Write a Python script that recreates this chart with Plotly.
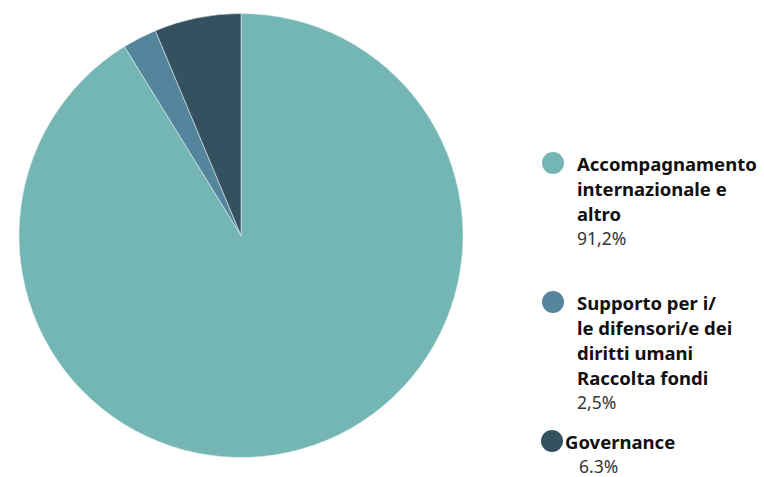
import plotly.graph_objects as go

labels = ["Accompagnamento internazionale e altro",
          "Supporto per i/le difensori/e dei diritti umani Raccolta fondi",
          "Governance"]
values = [91.2, 2.5, 6.3]
value_labels = ["91,2%", "2,5%", "6.3%"]
colors = ["#74B6B4", "#55859D", "#35505F"]
legend_lines = [["Accompagnamento", "internazionale e", "altro"],
                ["Supporto per i/", "le difensori/e dei", "diritti umani", "Raccolta fondi"],
                ["Governance"]]

W, H = 764, 477
fig = go.Figure()
fig.add_trace(go.Pie(
    labels=labels, values=values, sort=False, direction="clockwise", rotation=0,
    marker=dict(colors=colors, line=dict(color="#dfeeee", width=0.6)),
    textinfo="none", hoverinfo="label+percent", showlegend=False,
    domain=dict(x=[(241 - 222) / W, (241 + 222) / W],
                y=[1 - (235.5 + 222) / H, 1 - (235.5 - 222) / H]),
))

# custom legend layout (pixel positions)
item_layout = [
    dict(cx=553, cy=163, tx=575, px=575),
    dict(cx=553, cy=302, tx=575, px=575),
    dict(cx=552, cy=441, tx=563, px=577),
]
line_h = 25
for i, lay in enumerate(item_layout):
    r = 11
    fig.add_shape(type="circle", xref="paper", yref="paper",
                  x0=(lay["cx"] - r) / W, x1=(lay["cx"] + r) / W,
                  y0=1 - (lay["cy"] + r) / H, y1=1 - (lay["cy"] - r) / H,
                  fillcolor=colors[i], line=dict(width=0))
    for j, txt in enumerate(legend_lines[i]):
        fig.add_annotation(x=lay["tx"] / W, y=1 - (lay["cy"] + j * line_h) / H,
                           xref="paper", yref="paper", xanchor="left", yanchor="middle",
                           text="<b>" + txt + "</b>", showarrow=False,
                           font=dict(family="Noto Sans", size=18.5, color="#111111"))
    j = len(legend_lines[i])
    fig.add_annotation(x=lay["px"] / W, y=1 - (lay["cy"] + j * line_h) / H,
                       xref="paper", yref="paper", xanchor="left", yanchor="middle",
                       text=value_labels[i], showarrow=False,
                       font=dict(family="Noto Sans", size=17.5, color="#333333"))

fig.update_layout(width=W, height=H, margin=dict(l=0, r=0, t=0, b=0),
                  paper_bgcolor="white", plot_bgcolor="white")
fig.write_html("out.html")
